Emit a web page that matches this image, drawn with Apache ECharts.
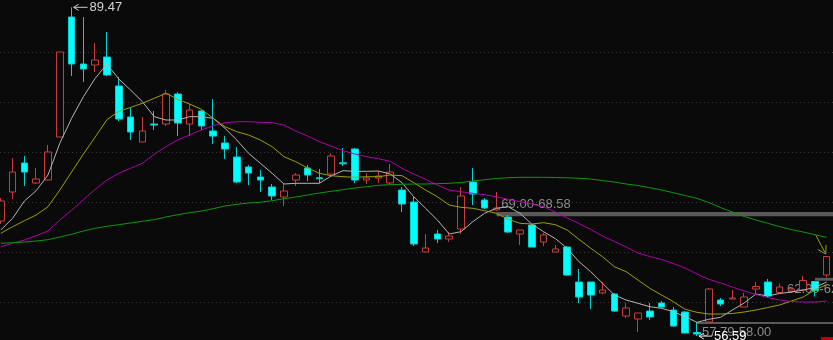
<!DOCTYPE html>
<html><head><meta charset="utf-8">
<script src="https://cdn.jsdelivr.net/npm/echarts@6/dist/echarts.min.js"></script>
<style>html,body{margin:0;padding:0;background:#0a0a0a;}#c{width:833px;height:340px;}</style>
</head><body><div id="c"></div>
<script>
// [open, close, low, high]
const ohlc = [
  [68.1,70.1,67.8,70.4],[71.0,73.0,70.3,74.4],[73.9,73.0,71.6,74.6],[71.9,72.3,71.8,73.4],[72.2,75.0,72.2,75.7],
  [76.5,85.0,76.5,85.0],[88.5,83.8,82.6,89.47],[83.8,83.3,82.0,88.5],[83.7,84.2,83.0,85.9],[84.5,82.7,82.6,87.0],
  [81.6,78.3,78.1,82.5],[78.5,77.0,76.2,79.4],[76.0,77.1,76.0,78.5],[77.8,77.7,77.2,79.1],[77.8,80.8,77.6,81.2],
  [80.8,77.9,76.6,81.0],[77.8,79.2,76.6,79.8],[79.1,77.6,77.2,79.2],[77.1,76.6,75.8,80.3],[75.9,75.3,74.3,76.6],
  [74.5,72.0,71.9,75.5],[73.5,72.9,71.7,73.7],[72.5,72.2,71.0,73.2],[71.5,70.6,70.2,71.8],[70.5,71.1,69.6,71.9],
  [72.2,72.7,71.6,72.9],[73.4,72.7,72.1,73.7],[72.42,72.33,71.9,73.3],[72.8,74.6,72.6,74.9],[73.92,73.82,73.6,75.4],
  [75.3,72.2,71.9,75.4],[72.2,72.4,71.8,72.9],[72.4,72.6,71.9,73.1],[71.9,73.0,71.7,73.8],[71.2,69.8,69.0,71.5],
  [70.0,65.8,65.6,70.5],[65.0,65.4,65.0,66.8],[66.8,66.3,65.9,67.2],[66.3,66.6,66.0,67.0],[67.3,70.6,66.8,71.5],
  [72.0,70.8,69.7,73.4],[70.2,69.4,69.3,70.4],[69.2,69.4,69.1,71.0],[68.5,67.0,66.9,68.7],[66.8,67.2,65.7,67.2],
  [67.7,65.5,65.5,67.8],[66.0,66.7,65.6,66.9],[65.0,65.3,65.0,65.7],[65.5,62.7,62.6,65.6],[62.0,60.5,59.9,63.3],
  [62.0,60.7,59.3,62.0],[60.9,61.2,60.8,62.0],[60.8,59.1,59.0,60.9],[58.6,59.4,58.4,59.9],[58.3,58.9,57.0,58.9],
  [59.1,58.5,58.2,59.9],[59.9,59.5,59.4,60.1],[59.2,57.6,57.5,59.5],[59.0,56.9,56.9,59.1],[56.95,56.8,56.59,58.0],
  [58.0,61.3,57.9,61.4],[60.2,59.8,59.6,60.4],[60.3,60.4,60.3,61.2],[59.5,60.5,59.5,60.9],[61.3,61.55,60.8,62.0],
  [62.0,60.6,60.4,62.3],[60.95,61.5,60.95,61.85],[61.1,61.3,61.0,61.5],[61.2,62.15,61.1,62.6],[62.05,61.15,60.55,62.1],
  [62.7,64.55,62.45,64.6]
];
const ma5 = [67.2,68.37,70.1,71.13,72.7,75.87,78.37,80.53,82.37,83.8,82.3,81.2,80.03,78.53,78.2,78.2,78.53,78.53,78.37,77.37,
  76.2,74.87,73.87,72.87,71.8,71.87,71.87,71.87,72.6,73.13,73.07,73.07,73.1,72.8,71.93,70.53,69.37,68.2,66.8,67.03,
  68.03,68.87,69.37,69.53,68.87,67.8,67.03,66.34,65.37,64.03,63.03,61.87,60.7,60.2,59.87,59.53,59.37,59.03,58.53,57.97,
  58.27,58.47,59.2,59.9,60.8,60.6,60.85,61.0,61.2,61.45,62.0];
const ma10 = [66.87,67.53,68.13,68.7,69.53,71.2,73.0,74.8,76.5,78.24,79.06,79.46,79.87,80.37,80.87,80.27,79.8,79.27,78.37,77.53,
  77.03,76.7,76.2,75.53,74.53,74.03,73.4,72.87,72.63,72.53,72.47,72.53,72.53,72.7,72.63,71.93,71.2,70.53,69.7,69.47,
  69.37,69.13,68.87,68.27,67.87,67.8,67.93,67.73,67.2,66.27,65.37,64.53,63.53,63.03,62.2,61.37,60.7,60.03,59.27,58.97,
  58.8,58.8,58.85,59.0,59.2,59.45,59.7,60.1,60.5,61.2,61.75];
const ma20 = [65.53,65.87,66.2,66.63,67.1,68.2,69.17,70.23,71.27,72.2,72.87,73.37,73.87,74.77,75.53,76.2,76.7,77.2,77.63,77.93,
  78.03,78.03,77.97,77.93,77.7,77.1,76.6,76.03,75.6,75.13,74.8,74.53,74.33,74.07,73.37,72.8,72.27,71.7,71.2,71.03,
  70.87,70.73,70.53,70.27,70.03,69.8,69.53,69.0,68.4,67.85,67.25,66.6,66.05,65.5,64.9,64.55,64.25,63.85,63.4,62.8,
  62.27,61.9,61.5,61.1,60.75,60.45,60.2,60.05,60.0,60.0,60.1];
const ma60 = [65.87,65.93,66.0,66.1,66.23,66.5,66.77,67.1,67.37,67.57,67.73,67.9,68.07,68.23,68.5,68.73,68.93,69.1,69.33,69.6,
  69.77,69.9,69.97,70.13,70.33,70.5,70.7,70.9,71.07,71.23,71.4,71.53,71.67,71.73,71.77,71.8,71.8,71.83,71.87,71.95,
  72.1,72.23,72.35,72.43,72.47,72.47,72.47,72.45,72.42,72.37,72.3,72.15,72.0,71.8,71.65,71.43,71.2,70.93,70.65,70.37,
  69.95,69.45,69.0,68.55,68.2,67.87,67.53,67.25,67.0,66.73,66.47];
// horizontal dotted grid levels
const gridLevels = [60, 65, 70, 75, 80, 85];
// price bands: [start index, top, bottom, label]
const bands = [
  [42, 69.00, 68.58, '69.00-68.58'],
  [59, 58.00, 57.79, '57.79-58.00'],
  [69, 62.42, 62.13, '62.00-62.40']
];
const highIdx = 6, highVal = 89.47;
const lowIdx = 59, lowVal = 56.59;
const lastIdx = 70;

// visible window (index units / price units)
const xMin = -0.068, xMax = 70.53;
const yMin = 56.2, yMax = 90.2;

const candles = ohlc.map((d, i) => [i].concat(d));
const toXY = arr => arr.map((v, i) => [i, v]);

const chart = echarts.init(document.getElementById('c'), null, {renderer: 'canvas'});
const lineS = (data, color) => ({type: 'line', data: toXY(data), symbol: 'none', smooth: false, z: 3,
  lineStyle: {color, width: 1}, silent: true, clip: true});
chart.setOption({
  backgroundColor: '#0a0a0a',
  animation: false,
  grid: {left: 0, right: 0, top: 0, bottom: 0},
  xAxis: {type: 'value', min: xMin, max: xMax, show: false, splitLine: {show: false}},
  yAxis: {type: 'value', min: yMin, max: yMax, show: false, splitLine: {show: false}},
  series: [
    {type: 'candlestick', data: candles, barWidth: 7, z: 2, clip: false,
      encode: {x: 0, y: [1, 2, 3, 4]},
      itemStyle: {color: '#0a0a0a', color0: '#00ffff', borderColor: '#c83c3c', borderColor0: '#00d2d2', borderWidth: 1},
      markLine: {silent: true, symbol: 'none', label: {show: false}, z: 1,
        lineStyle: {color: '#3a3a3a', type: [1, 3], width: 1},
        data: gridLevels.map(v => ({yAxis: v}))},
      markArea: {silent: true, itemStyle: {color: '#595959'}, label: {show: false},
        data: bands.map(b => [{xAxis: b[0], yAxis: b[1]}, {xAxis: xMax + 2, yAxis: b[2]}])}
    },
    lineS(ma5, '#b4b4b4'),
    lineS(ma10, '#a0a000'),
    lineS(ma20, '#b000b0'),
    lineS(ma60, '#0c9a0c')
  ]
});

const px = (i, v) => chart.convertToPixel({gridIndex: 0}, [i, v]);
const g = [];
const font = '13px "Liberation Sans", Arial, sans-serif';
function leftArrow(tip, len, color) {
  g.push({type: 'polyline', silent: true, shape: {points: [[tip[0] + len, tip[1]], tip]}, style: {stroke: color, lineWidth: 1}});
  g.push({type: 'polyline', silent: true, shape: {points: [[tip[0] + 5, tip[1] - 3], tip, [tip[0] + 5, tip[1] + 3]]}, style: {stroke: color, lineWidth: 1, fill: null}});
}
// highest
const ph = px(highIdx, highVal);
const tipH = [ph[0] + 2, ph[1]];
leftArrow(tipH, 14, '#c8c8c8');
g.push({type: 'text', silent: true, style: {x: tipH[0] + 16, y: tipH[1], text: String(highVal), font, fill: '#d2d2d2', textVerticalAlign: 'middle'}});
// band labels
const b0 = px(bands[0][0], bands[0][1]);
g.push({type: 'text', silent: true, style: {x: b0[0] + 5, y: b0[1] - 8, text: bands[0][3], font, fill: '#8c8c8c', textVerticalAlign: 'middle'}});
const b1 = px(bands[1][0], bands[1][2]);
g.push({type: 'text', silent: true, style: {x: b1[0] + 5, y: b1[1] + 8, text: bands[1][3], font, fill: '#8c8c8c', textVerticalAlign: 'middle'}});
const b2 = px(bands[2][0], bands[2][2]);
g.push({type: 'text', silent: true, style: {x: b2[0] - 28, y: b2[1] + 9, text: bands[2][3], font, fill: '#8c8c8c', textVerticalAlign: 'middle'}});
// lowest
const pl = px(lowIdx, lowVal);
const tipL = [pl[0] + 2, pl[1]];
leftArrow(tipL, 13, '#e6e6e6');
g.push({type: 'text', silent: true, style: {x: tipL[0] + 15, y: tipL[1], text: String(lowVal), font, fill: '#ffffff', textVerticalAlign: 'middle'}});
// olive arrow to last candle
const pt = px(lastIdx, ohlc[lastIdx][3]);
const tip = [pt[0] - 1, pt[1] - 2];
g.push({type: 'polyline', silent: true, shape: {points: [[tip[0] - 10, tip[1] - 19], tip]}, style: {stroke: '#a0a000', lineWidth: 1}});
g.push({type: 'polyline', silent: true, shape: {points: [[tip[0] - 8, tip[1] - 4.5], tip, [tip[0] + 0.3, tip[1] - 9]]}, style: {stroke: '#a0a000', lineWidth: 1, fill: null}});
// small red marker at bottom right
g.push({type: 'rect', silent: true, right: 0, bottom: 0, shape: {width: 12, height: 3}, style: {fill: '#c00000'}});
chart.setOption({graphic: g});
</script>
</body></html>
